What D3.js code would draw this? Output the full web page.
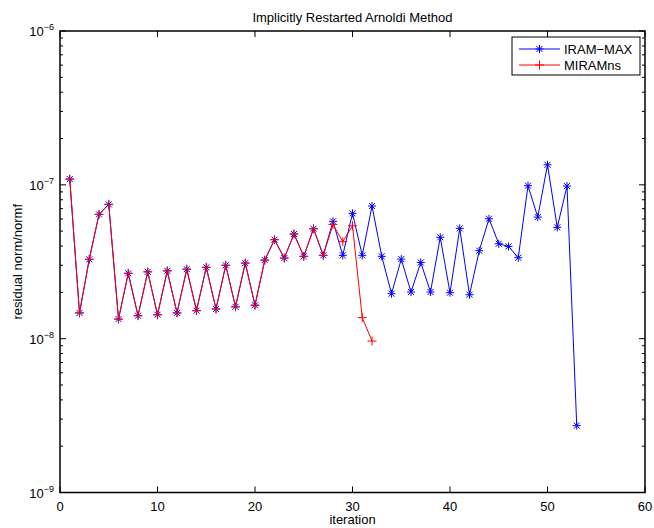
<!DOCTYPE html>
<html><head><meta charset="utf-8">
<script src="https://cdn.jsdelivr.net/npm/d3@7"></script>
<style>body{margin:0;background:#fff}svg{display:block;font-family:"Liberation Sans",Arial,sans-serif}</style>
</head><body><svg id="c" width="654" height="528"></svg>
<script>
const iterations = d3.range(1, 54);
const iramMax = [1.09e-7,1.47e-8,3.28e-8,6.43e-8,7.47e-8,1.34e-8,2.66e-8,1.41e-8,2.72e-8,1.43e-8,
  2.76e-8,1.47e-8,2.83e-8,1.52e-8,2.91e-8,1.56e-8,3.0e-8,1.61e-8,3.1e-8,1.65e-8,
  3.24e-8,4.40e-8,3.34e-8,4.79e-8,3.43e-8,5.18e-8,3.48e-8,5.79e-8,3.48e-8,6.53e-8,
  3.48e-8,7.28e-8,3.43e-8,1.96e-8,3.29e-8,2.01e-8,3.13e-8,2.01e-8,4.56e-8,1.99e-8,
  5.21e-8,1.93e-8,3.73e-8,6.02e-8,4.14e-8,3.98e-8,3.36e-8,9.87e-8,6.17e-8,1.35e-7,
  5.29e-8,9.82e-8,2.72e-9];
const miramNs = [1.09e-7,1.47e-8,3.28e-8,6.43e-8,7.47e-8,1.34e-8,2.66e-8,1.41e-8,2.72e-8,1.43e-8,
  2.76e-8,1.47e-8,2.83e-8,1.52e-8,2.91e-8,1.56e-8,3.0e-8,1.61e-8,3.1e-8,1.65e-8,
  3.24e-8,4.40e-8,3.34e-8,4.79e-8,3.43e-8,5.18e-8,3.48e-8,5.53e-8,4.27e-8,5.42e-8,
  1.37e-8,9.65e-9];
const xTicks = [0,10,20,30,40,50,60];
const yDecades = [-9,-8,-7,-6];
const seriesNames = ["IRAM\u2212MAX","MIRAMns"];
const titleText = "Implicitly Restarted Arnoldi Method";
const xLabel = "iteration";
const yLabel = "residual norm/normf";

const L=60, R=645, T=31, B=492.5;
const svg = d3.select("#c");
const x = d3.scaleLinear().domain([0,60]).range([L,R]);
const y = d3.scaleLog().domain([1e-9,1e-6]).range([B,T]);

const minors=[];
for (let e=-9;e<-6;e++) for (let m=2;m<=9;m++) minors.push(m*Math.pow(10,e));
const g = svg.append("g").attr("stroke","#000").attr("stroke-width",1);
yDecades.forEach(e=>{const v=Math.pow(10,e);const yy=y(v);
  g.append("line").attr("x1",L).attr("x2",L+6).attr("y1",yy).attr("y2",yy);
  g.append("line").attr("x1",R).attr("x2",R-6).attr("y1",yy).attr("y2",yy);});
minors.forEach(v=>{const yy=y(v);
  g.append("line").attr("x1",L).attr("x2",L+3).attr("y1",yy).attr("y2",yy);
  g.append("line").attr("x1",R).attr("x2",R-3).attr("y1",yy).attr("y2",yy);});
xTicks.forEach(t=>{const xx=x(t);
  g.append("line").attr("x1",xx).attr("x2",xx).attr("y1",B).attr("y2",B-6);
  g.append("line").attr("x1",xx).attr("x2",xx).attr("y1",T).attr("y2",T+6);});

const line = d3.line().x((d,i)=>x(iterations[i])).y(d=>y(d));
svg.append("path").datum(iramMax).attr("d",line).attr("fill","none").attr("stroke","#0000ff").attr("stroke-width",1);
svg.append("path").datum(miramNs).attr("d",line).attr("fill","none").attr("stroke","#ff0000").attr("stroke-width",1);

function star(sel,cx,cy,col){const s=4;
  const gg=sel.append("g").attr("stroke",col).attr("stroke-width",1);
  gg.append("line").attr("x1",cx-s).attr("x2",cx+s).attr("y1",cy).attr("y2",cy);
  gg.append("line").attr("x1",cx).attr("x2",cx).attr("y1",cy-s).attr("y2",cy+s);
  const d=s*0.75;
  gg.append("line").attr("x1",cx-d).attr("x2",cx+d).attr("y1",cy-d).attr("y2",cy+d);
  gg.append("line").attr("x1",cx-d).attr("x2",cx+d).attr("y1",cy+d).attr("y2",cy-d);}
function plus(sel,cx,cy,col){const s=4.5;
  const gg=sel.append("g").attr("stroke",col).attr("stroke-width",1);
  gg.append("line").attr("x1",cx-s).attr("x2",cx+s).attr("y1",cy).attr("y2",cy);
  gg.append("line").attr("x1",cx).attr("x2",cx).attr("y1",cy-s).attr("y2",cy+s);}
const mk = svg.append("g");
iramMax.forEach((v,i)=>star(mk,x(iterations[i]),y(v),"#0000ff"));
miramNs.forEach((v,i)=>plus(mk,x(iterations[i]),y(v),"#ff0000"));

svg.append("rect").attr("x",L).attr("y",T).attr("width",R-L).attr("height",B-T)
  .attr("fill","none").attr("stroke","#000").attr("stroke-width",1.5);

xTicks.forEach(t=>svg.append("text").attr("x",x(t)).attr("y",B+18).attr("text-anchor","middle")
  .attr("font-size",13).text(t));
yDecades.forEach(e=>{const t=svg.append("text").attr("x",L-6).attr("y",y(Math.pow(10,e))+5)
  .attr("text-anchor","end").attr("font-size",13);
  t.append("tspan").text("10");
  t.append("tspan").attr("dy",-6).attr("font-size",9).text("\u2212"+Math.abs(e));});

svg.append("text").attr("x",(L+R)/2).attr("y",22).attr("text-anchor","middle").attr("font-size",13).text(titleText);
svg.append("text").attr("x",(L+R)/2).attr("y",524).attr("text-anchor","middle").attr("font-size",13).text(xLabel);
svg.append("text").attr("transform",`translate(22,${(T+B)/2}) rotate(-90)`).attr("text-anchor","middle").attr("font-size",13).text(yLabel);

const lg = svg.append("g");
lg.append("rect").attr("x",512).attr("y",37).attr("width",128).attr("height",38).attr("fill","#fff").attr("stroke","#000").attr("stroke-width",1);
[[0,"#0000ff",star],[1,"#ff0000",plus]].forEach(([i,col,fn])=>{
  const yy=49+i*16;
  lg.append("line").attr("x1",519).attr("x2",560).attr("y1",yy).attr("y2",yy).attr("stroke",col).attr("stroke-width",1);
  fn(lg,539.5,yy,col);
  lg.append("text").attr("x",564).attr("y",yy+5).attr("font-size",13).text(seriesNames[i]);
});
</script></body></html>
